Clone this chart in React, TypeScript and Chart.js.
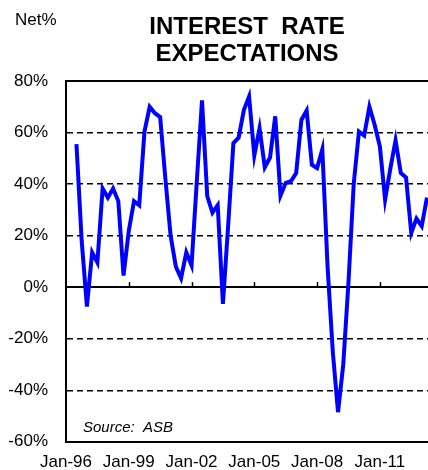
import React, { useEffect, useRef } from "react";
import { Chart, registerables } from "chart.js";

Chart.register(...registerables);

// ---- data ----
const firstQuarter = 1996.5; // first survey point (mid-1996), quarterly thereafter
const quarterStep = 0.25;
const netPercent = [
  55.5, 18, -7.5, 13.5, 9.6, 38.3, 34.7, 38.3, 33.4, 4.5,
  21.8, 33.4, 31.8, 60.4, 70, 67.5, 66, 42, 20, 8,
  3.5, 13.5, 8.5, 41, 72.5, 35.3, 28.9, 31.8, -6.5, 24,
  55.9, 58, 68.7, 74, 51.1, 61.7, 46.5, 50.3, 66.3, 35.5,
  40.5, 41.1, 44.3, 64.9, 68.5, 47.5, 46.2, 53.5, 8, -25,
  -48.5, -30, 2, 40, 60.4, 58.8, 70, 63, 54.6, 34,
  46, 57, 44.3, 42.6, 21, 26.6, 23.7, 34.8,
];
const xTickYears = [1996, 1999, 2002, 2005, 2008, 2011];
const xMin = 1996;
const xMax = 2013.3;
const yMin = -60;
const yMax = 80;
const yStep = 20;
const titleLines = ["INTEREST  RATE", "EXPECTATIONS"];
const unitLabel = "Net%";
const sourceLabel = "Source:  ASB";

const FONT = '"Liberation Sans", Arial, Helvetica, sans-serif';

const decorPlugin = {
  id: "decor",
  beforeDatasetsDraw(chart: any) {
    const { ctx, scales } = chart;
    const x = scales.x;
    const y = scales.y;
    const y0 = y.getPixelForValue(0);
    ctx.save();
    ctx.strokeStyle = "#000";
    ctx.lineWidth = 1.5;
    xTickYears.slice(1).forEach((v) => {
      const px = Math.round(x.getPixelForValue(v)) + 0.5;
      ctx.beginPath();
      ctx.moveTo(px, y0);
      ctx.lineTo(px, y0 - 5);
      ctx.stroke();
    });
    ctx.restore();
  },
  afterDraw(chart: any) {
    const { ctx, chartArea } = chart;
    ctx.save();
    ctx.fillStyle = "#000";
    ctx.textBaseline = "alphabetic";
    // title
    ctx.font = `bold 24px ${FONT}`;
    ctx.textAlign = "center";
    const cx = (chartArea.left + chartArea.right) / 2;
    ctx.fillText(titleLines[0], cx, 34);
    ctx.fillText(titleLines[1], cx, 60.5);
    // unit
    ctx.font = `17px ${FONT}`;
    ctx.textAlign = "left";
    ctx.fillText(unitLabel, 15, 25);
    // source
    ctx.font = `italic 15px ${FONT}`;
    ctx.fillText(sourceLabel, 83, 432);
    ctx.restore();
  },
};

export default function App() {
  const canvasRef = useRef<HTMLCanvasElement | null>(null);

  useEffect(() => {
    if (!canvasRef.current) return;
    const points = netPercent.map((v, i) => ({ x: firstQuarter + i * quarterStep, y: v }));
    const solidValues = [0, yMin, yMax];
    const chart = new Chart(canvasRef.current, {
      type: "line",
      data: {
        datasets: [
          {
            data: points,
            borderColor: "#0000FF",
            borderWidth: 4,
            pointRadius: 0,
            tension: 0,
            fill: false,
          },
        ],
      },
      options: {
        responsive: false,
        animation: false,
        layout: { padding: { top: 81, left: 0, right: 0, bottom: 0 } },
        plugins: {
          legend: { display: false },
          title: { display: false },
          tooltip: { enabled: false },
        },
        scales: {
          x: {
            type: "linear",
            min: xMin,
            max: xMax,
            afterBuildTicks: (scale: any) => {
              scale.ticks = xTickYears.map((v) => ({ value: v }));
            },
            afterFit: (scale: any) => {
              scale.height = 27;
            },
            ticks: {
              autoSkip: false,
              maxRotation: 0,
              padding: 10,
              color: "#000",
              font: { family: FONT, size: 17 },
              callback: (v: any) => "Jan-" + String(v).slice(2),
            },
            grid: { display: false, drawTicks: false },
            border: { display: false },
          },
          y: {
            min: yMin,
            max: yMax,
            afterFit: (scale: any) => {
              scale.width = 66;
            },
            ticks: {
              stepSize: yStep,
              padding: 18,
              color: "#000",
              font: { family: FONT, size: 17 },
              callback: (v: any) => v + "%",
            },
            grid: {
              drawTicks: false,
              color: "#000",
              lineWidth: (ctx: any) =>
                ctx.tick && solidValues.includes(ctx.tick.value) ? 2 : 1.5,
            },
            border: {
              display: true,
              color: "#000",
              width: 2,
              dash: (ctx: any) =>
                ctx.type === "tick" && ctx.tick && !solidValues.includes(ctx.tick.value)
                  ? [6, 4]
                  : [],
            },
          },
        },
      },
      plugins: [decorPlugin],
    });
    return () => chart.destroy();
  }, []);

  return (
    <div style={{ position: "absolute", left: 0, top: 0, width: 428, height: 470, background: "#fff" }}>
      <canvas ref={canvasRef} width={428} height={470} style={{ display: "block" }} />
    </div>
  );
}
